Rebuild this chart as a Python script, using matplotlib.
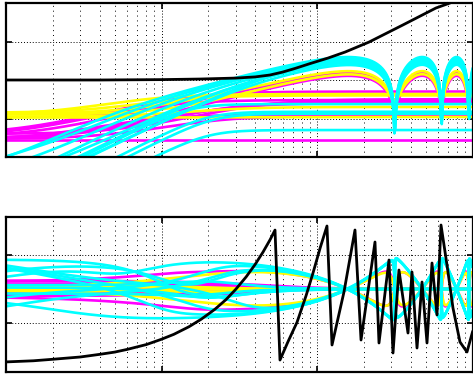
import numpy as np
import matplotlib
matplotlib.use("Agg")
import matplotlib.pyplot as plt
from matplotlib.ticker import LogLocator, NullFormatter, FixedLocator


# spacing of the notches in the comb-shaped responses (first notch frequency)
NOTCH_FREQ = 316.0

# black reference curve, magnitude (dB) and wrapped phase (deg)
black_mag_freq = [1.0, 4.0, 10.0, 17.7, 30.0, 40.0, 49.9, 60.0, 72.2, 90.0, 117.7, 151.4,
                  216.0, 357.0, 582.0, 717.0, 1000.0]
black_mag_db = [-40.0, -40.0, -39.8, -39.5, -39.0, -38.4, -37.4, -35.9, -34.0, -31.5, -28.6, -25.5,
                -20.3, -11.4, -2.6, 0.0, 7.0]

black_ph_freq = [1.0, 1.5, 2.0, 3.0, 4.0, 5.0, 6.0, 8.0, 10.0, 12.0, 15.0, 18.0, 22.0, 26.0,
                 30.0, 35.0, 40.0, 45.0, 50.0, 53.7,
                 57.8, 65.0, 74.4, 85.0, 94.2, 105.0, 115.9, 124.9, 149.1, 175.5, 191.9, 236.0, 250.4,
                 290.4, 308.2, 336.5, 384.7, 408.2, 439.7, 473.5, 509.8, 549.0, 591.0,
                 627.3, 685.5, 749.0, 831.0, 921.6, 1000.0]
black_ph_deg = [-193.0, -190.0, -186.0, -180.0, -173.0, -167.0, -160.0, -147.0, -133.0, -120.0,
                -100.0, -80.0, -54.0, -28.0, -1.0, 32.0, 65.0, 98.0, 131.0, 156.0,
                -188.0, -140.0, -88.0, -18.0, 42.0, 110.0, 166.8, -148.2, -7.9, 156.2, -135.0, 124.4,
                -142.9, 76.8, -169.4, 50.3, -116.5, 45.0, -156.2, 18.5, -142.9, 68.8, -68.8,
                169.4, 63.5, -50.3, -140.3, -166.8, -113.8]

# ensemble members: high / low frequency level (dB), corner, order,
# notch depth (0 = no notches), notch phase direction, phase offsets (deg)
yellow_hi = [-40.0, -41.5, -47.3, -48.0, -54.0, -59.2]
yellow_lo = [-47.0, -48.0, -58.0, -57.0, -59.0, -59.5]
yellow_wc = [15.0, 25.0, 8.0, 12.0, 20.0, 30.0]
yellow_order = [1, 1, 1, 1, 1, 1]
yellow_rho = [0.7, 0.68, 0.0, 0.0, 0.0, 0.0]
yellow_side = [1, -1, 1, 1, 1, 1]
yellow_p0 = [3.0, -3.0, 2.0, 6.0, -4.0, 0.0]
yellow_pb = [0.0, 0.0, 6.0, 4.0, -6.0, 0.0]

magenta_hi = [-41.0, -42.5, -50.4, -52.0, -58.7, -71.2, -46.0, -51.0, -58.0, -50.0]
magenta_lo = [-59.0, -60.0, -69.0, -70.0, -70.5, -71.2, -68.0, -70.0, -71.0, -68.0]
magenta_wc = [12.0, 18.0, 10.0, 25.0, 20.0, 20.0, 15.0, 30.0, 8.0, 45.0]
magenta_order = [1, 1, 1, 1, 1, 1, 1, 1, 1, 1]
magenta_rho = [0.7, 0.72, 0.0, 0.0, 0.0, 0.0, 0.0, 0.0, 0.0, 0.0]
magenta_side = [1, -1, 1, 1, 1, 1, 1, 1, 1, 1]
magenta_p0 = [18.0, -20.0, 12.0, -14.0, 22.0, -8.0, 6.0, -18.0, 8.0, 20.0]
magenta_pb = [6.0, -6.0, 8.0, -6.0, 4.0, -4.0, 10.0, 5.0, -5.0, 0.0]

cyan_hi = [-34.0, -35.0, -36.0, -37.0, -38.0, -35.5, -36.5, -34.5, -52.5, -56.5, -57.5, -66.0]
cyan_lo = [-140.0] * 12
cyan_wc = [5.5, 11.0, 15.0, 20.0, 30.0, 40.0, 25.0, 8.0, 15.0, 20.0, 22.0, 20.0]
cyan_order = [1, 1, 1, 1, 1, 1, 1, 1, 2, 2, 2, 2]
cyan_rho = [0.98, 0.97, 0.99, 0.96, 0.98, 0.97, 0.99, 0.96, 0.0, 0.0, 0.0, 0.0]
cyan_side = [1, -1, 1, -1, 1, -1, 1, -1, 1, 1, 1, 1]
cyan_p0 = [-10.0, 88.0, -15.0, 82.0, -90.0, 95.0, -85.0, -12.0, 78.0, 10.0, -12.0, 4.0]
cyan_pb = [-30.0, -25.0, -60.0, -20.0, 20.0, -30.0, 25.0, 0.0, -50.0, 15.0, -15.0, -25.0]

freq = np.logspace(0, 3, 700)


def member_response(hi, lo, wc, order, rho, side, p0, pb):
    x = (freq / wc) ** order
    r = 10 ** ((lo - hi) / 20.0)
    shelf = 10 ** (hi / 20.0) * np.sqrt((r ** 2 + x ** 2) / (1 + x ** 2))
    comb = 1 - rho * np.exp(-1j * side * 2 * np.pi * freq / NOTCH_FREQ)
    mag = 20 * np.log10(shelf * np.abs(comb))
    u = freq / wc
    phase = np.degrees(np.angle(comb)) + p0 / (1 + u ** 2) + pb * 2 * u ** 2 / (1 + u ** 4)
    return mag, phase


def draw_group(ax_mag, ax_ph, color, hi, lo, wc, order, rho, side, p0, pb):
    for k in range(len(hi)):
        mag, ph = member_response(hi[k], lo[k], wc[k], order[k], rho[k], side[k], p0[k], pb[k])
        ax_mag.plot(freq, mag, color=color, linewidth=1.9)
        ax_ph.plot(freq, ph, color=color, linewidth=1.9)


def style_axes(ax, ylim, yticks):
    ax.set_xscale("log")
    ax.set_xlim(1, 1000)
    ax.set_ylim(*ylim)
    ax.xaxis.set_major_locator(FixedLocator([1, 10, 100, 1000]))
    ax.xaxis.set_minor_locator(LogLocator(base=10, subs=np.arange(2, 10), numticks=20))
    ax.yaxis.set_major_locator(FixedLocator(yticks))
    ax.xaxis.set_major_formatter(NullFormatter())
    ax.xaxis.set_minor_formatter(NullFormatter())
    ax.yaxis.set_major_formatter(NullFormatter())
    ax.tick_params(which="both", direction="in", top=True, right=True)
    ax.tick_params(which="major", length=4, width=1.2)
    ax.tick_params(which="minor", length=0)
    ax.grid(True, which="major", color="black", linestyle=(0, (1, 2)), linewidth=0.7)
    ax.grid(True, which="minor", axis="x", color="black", linestyle=(0, (1, 4)), linewidth=0.7)
    for s in ax.spines.values():
        s.set_linewidth(1.6)
    ax.set_axisbelow(True)


def main():
    fig = plt.figure(figsize=(4.73, 3.78), dpi=100)
    ax_mag = fig.add_axes([6 / 473, 1 - 157 / 378, 466.5 / 473, 154 / 378])
    ax_ph = fig.add_axes([6 / 473, 1 - 372 / 378, 466.5 / 473, 155 / 378])

    draw_group(ax_mag, ax_ph, "#ff00ff", magenta_hi, magenta_lo, magenta_wc, magenta_order,
               magenta_rho, magenta_side, magenta_p0, magenta_pb)
    draw_group(ax_mag, ax_ph, "#ffff00", yellow_hi, yellow_lo, yellow_wc, yellow_order,
               yellow_rho, yellow_side, yellow_p0, yellow_pb)
    draw_group(ax_mag, ax_ph, "#00ffff", cyan_hi, cyan_lo, cyan_wc, cyan_order,
               cyan_rho, cyan_side, cyan_p0, cyan_pb)

    ax_mag.plot(black_mag_freq, black_mag_db, color="black", linewidth=2.0)
    ax_ph.plot(black_ph_freq, black_ph_deg, color="black", linewidth=2.0)

    style_axes(ax_mag, (-80, 0), [-60, -40, -20])
    style_axes(ax_ph, (-219.7, 190.6), [-90, 90])

    fig.savefig("out.png", dpi=100)
    plt.close(fig)


if __name__ == "__main__":
    main()
